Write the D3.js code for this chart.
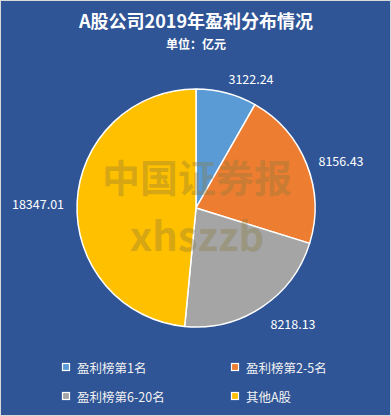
<!DOCTYPE html>
<html><head><meta charset="utf-8">
<script src="https://cdn.jsdelivr.net/npm/d3@7"></script>
<style>
html,body{margin:0;padding:0;background:#fff;}
svg{display:block;}
</style></head>
<body>
<script>
const categories = ["盈利榜第1名","盈利榜第2-5名","盈利榜第6-20名","其他A股"];
const values = [3122.24, 8156.43, 8218.13, 18347.01];
const labels = ["3122.24","8156.43","8218.13","18347.01"];
const colors = ["#5B9BD5","#ED7D31","#A5A5A5","#FFC000"];

const W = 391, H = 416;
const svg = d3.select("body").append("svg").attr("width", W).attr("height", H);
svg.append("rect").attr("x",0.5).attr("y",0.5).attr("width",W-1).attr("height",H-1)
  .attr("fill","#2F5597").attr("stroke","#D9D9D9").attr("stroke-width",1);

const font = "'Noto Sans CJK SC','Microsoft YaHei',sans-serif";
svg.append("text").attr("x",196).attr("y",28).attr("text-anchor","middle")
  .attr("fill","#fff").attr("font-family",font).attr("font-weight","bold").attr("font-size",18)
  .text("A股公司2019年盈利分布情况");
svg.append("text").attr("x",196).attr("y",49).attr("text-anchor","middle")
  .attr("fill","#fff").attr("font-family",font).attr("font-weight","bold").attr("font-size",12)
  .text("单位：亿元");

const cx = 196, cy = 208, r = 119;
const pie = d3.pie().sort(null).value(d => d)(values);
const arc = d3.arc().innerRadius(0).outerRadius(r);
const g = svg.append("g").attr("transform",`translate(${cx},${cy})`);
g.selectAll("path").data(pie).join("path")
  .attr("d", arc).attr("fill",(d,i)=>colors[i])
  .attr("stroke","#fff").attr("stroke-width",1.5).attr("stroke-linejoin","round");

const labelPos = [[251,78],[341,160],[293,323],[38,203]];
svg.selectAll("text.lbl").data(labels).join("text").attr("class","lbl")
  .attr("x",(d,i)=>labelPos[i][0]).attr("y",(d,i)=>labelPos[i][1])
  .attr("text-anchor","middle").attr("dominant-baseline","central")
  .attr("fill","#fff").attr("font-family",font).attr("font-size",12.5)
  .text(d=>d);

// watermark
svg.append("text").attr("x",197).attr("y",192).attr("text-anchor","middle")
  .attr("fill","#8a7a3a").attr("fill-opacity",0.35).attr("font-family",font)
  .attr("font-weight","bold").attr("font-size",38).text("中国证券报");
svg.append("text").attr("x",197).attr("y",251).attr("text-anchor","middle")
  .attr("fill","#8a7a3a").attr("fill-opacity",0.35).attr("font-family",font)
  .attr("font-weight","bold").attr("font-size",40).text("xhszzb");

// legend
const legPos = [[66,367],[235,367],[66,396],[235,396]];
const lg = svg.selectAll("g.leg").data(categories).join("g").attr("class","leg")
  .attr("transform",(d,i)=>`translate(${legPos[i][0]},${legPos[i][1]})`);
lg.append("rect").attr("x",-3.5).attr("y",-3.5).attr("width",7).attr("height",7)
  .attr("fill",(d,i)=>colors[i]).attr("stroke","#fff").attr("stroke-width",1.2);
lg.append("text").attr("x",11).attr("y",0).attr("dominant-baseline","central")
  .attr("fill","#F2F2F2").attr("font-family",font).attr("font-size",12.5).text(d=>d);
</script>
</body></html>
